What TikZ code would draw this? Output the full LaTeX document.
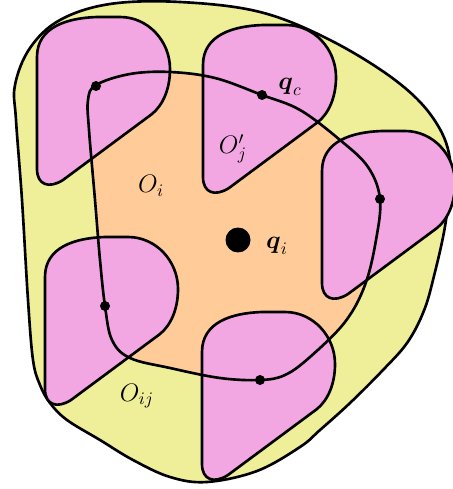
\documentclass[tikz,border=0pt]{standalone}
\usepackage{amsmath}
\usetikzlibrary{positioning}
\definecolor{outerfill}{RGB}{239,239,154}
\definecolor{innerfill}{RGB}{255,204,153}
\definecolor{petalfill}{RGB}{243,167,226}

\begin{document}
\begin{tikzpicture}[x=0.02cm,y=-0.02cm,
    outline/.style={draw=black,line width=1.5pt,line join=round},
    petal/.style={outline,fill=petalfill},
    dot/.style={circle,fill=black,inner sep=0pt,minimum size=0.2cm},
    bigdot/.style={circle,fill=black,inner sep=0pt,minimum size=0.5cm},
    lbl/.style={font=\Large}]
    \useasboundingbox (0,0) rectangle (452,489);
    % outer region O_ij
    \filldraw[outline,fill=outerfill] plot[smooth cycle,tension=0.6] coordinates {
        (15,85) (30,48) (60,20) (110,4) (180,2) (260,12) (330,40) (395,80)
        (433,118) (450,160) (446,220) (433,280) (423,313) (407,343) (383,370)
        (350,403) (320,430) (300,447) (257,471) (207,482) (170,477) (133,460)
        (100,440) (67,420) (50,403) (40,385) (33,360) (28,300) (22,200) (16,120)};
    % inner region O_i
    \fill[innerfill] plot[smooth cycle,tension=0.6] coordinates {
        (96,85) (130,74) (170,72) (215,78) (262,95) (300,110) (340,140)
        (368,167) (380,199) (376,240) (365,285) (345,322) (310,357) (285,375)
        (260,380) (220,378) (170,368) (130,358) (112,340) (105,306) (100,260)
        (95,200) (89,130) (88,100)};
    % obstacles
    \foreach \px/\py in {37/17,203/25,322/131,45/237,202/312}
        \filldraw[petal,shift={(\px,\py)}] (0,40) .. controls (0,10) and (30,1) .. (60,0)
            -- (83,0) .. controls (111,0) and (133,24) .. (133,52)
            .. controls (133,72) and (126,88) .. (115,97) -- (26,163)
            .. controls (12,172) and (0,168) .. (0,152) -- cycle;
    % boundary of O_i
    \draw[outline] plot[smooth cycle,tension=0.6] coordinates {
        (96,85) (130,74) (170,72) (215,78) (262,95) (300,110) (340,140)
        (368,167) (380,199) (376,240) (365,285) (345,322) (310,357) (285,375)
        (260,380) (220,378) (170,368) (130,358) (112,340) (105,306) (100,260)
        (95,200) (89,130) (88,100)};
    \node[dot] (p1) at (96,86) {};
    \node[dot] (qc) at (262,95) {};
    \node[dot] (p3) at (380,199) {};
    \node[dot] (p4) at (105,306) {};
    \node[dot] (p5) at (260,380) {};
    \node[bigdot] (qi) at (238,240) {};
    \node[lbl] (qclab) at (290,87) {$\boldsymbol{q}_c$};
    \node[lbl] (qilab) at (277,246) {$\boldsymbol{q}_i$};
    \node[lbl] (ojlab) at (233,149) {$O'_j$};
    \node[lbl] (oilab) at (151,186) {$O_i$};
    \node[lbl] (oijlab) at (137,396) {$O_{ij}$};
\end{tikzpicture}
\end{document}
